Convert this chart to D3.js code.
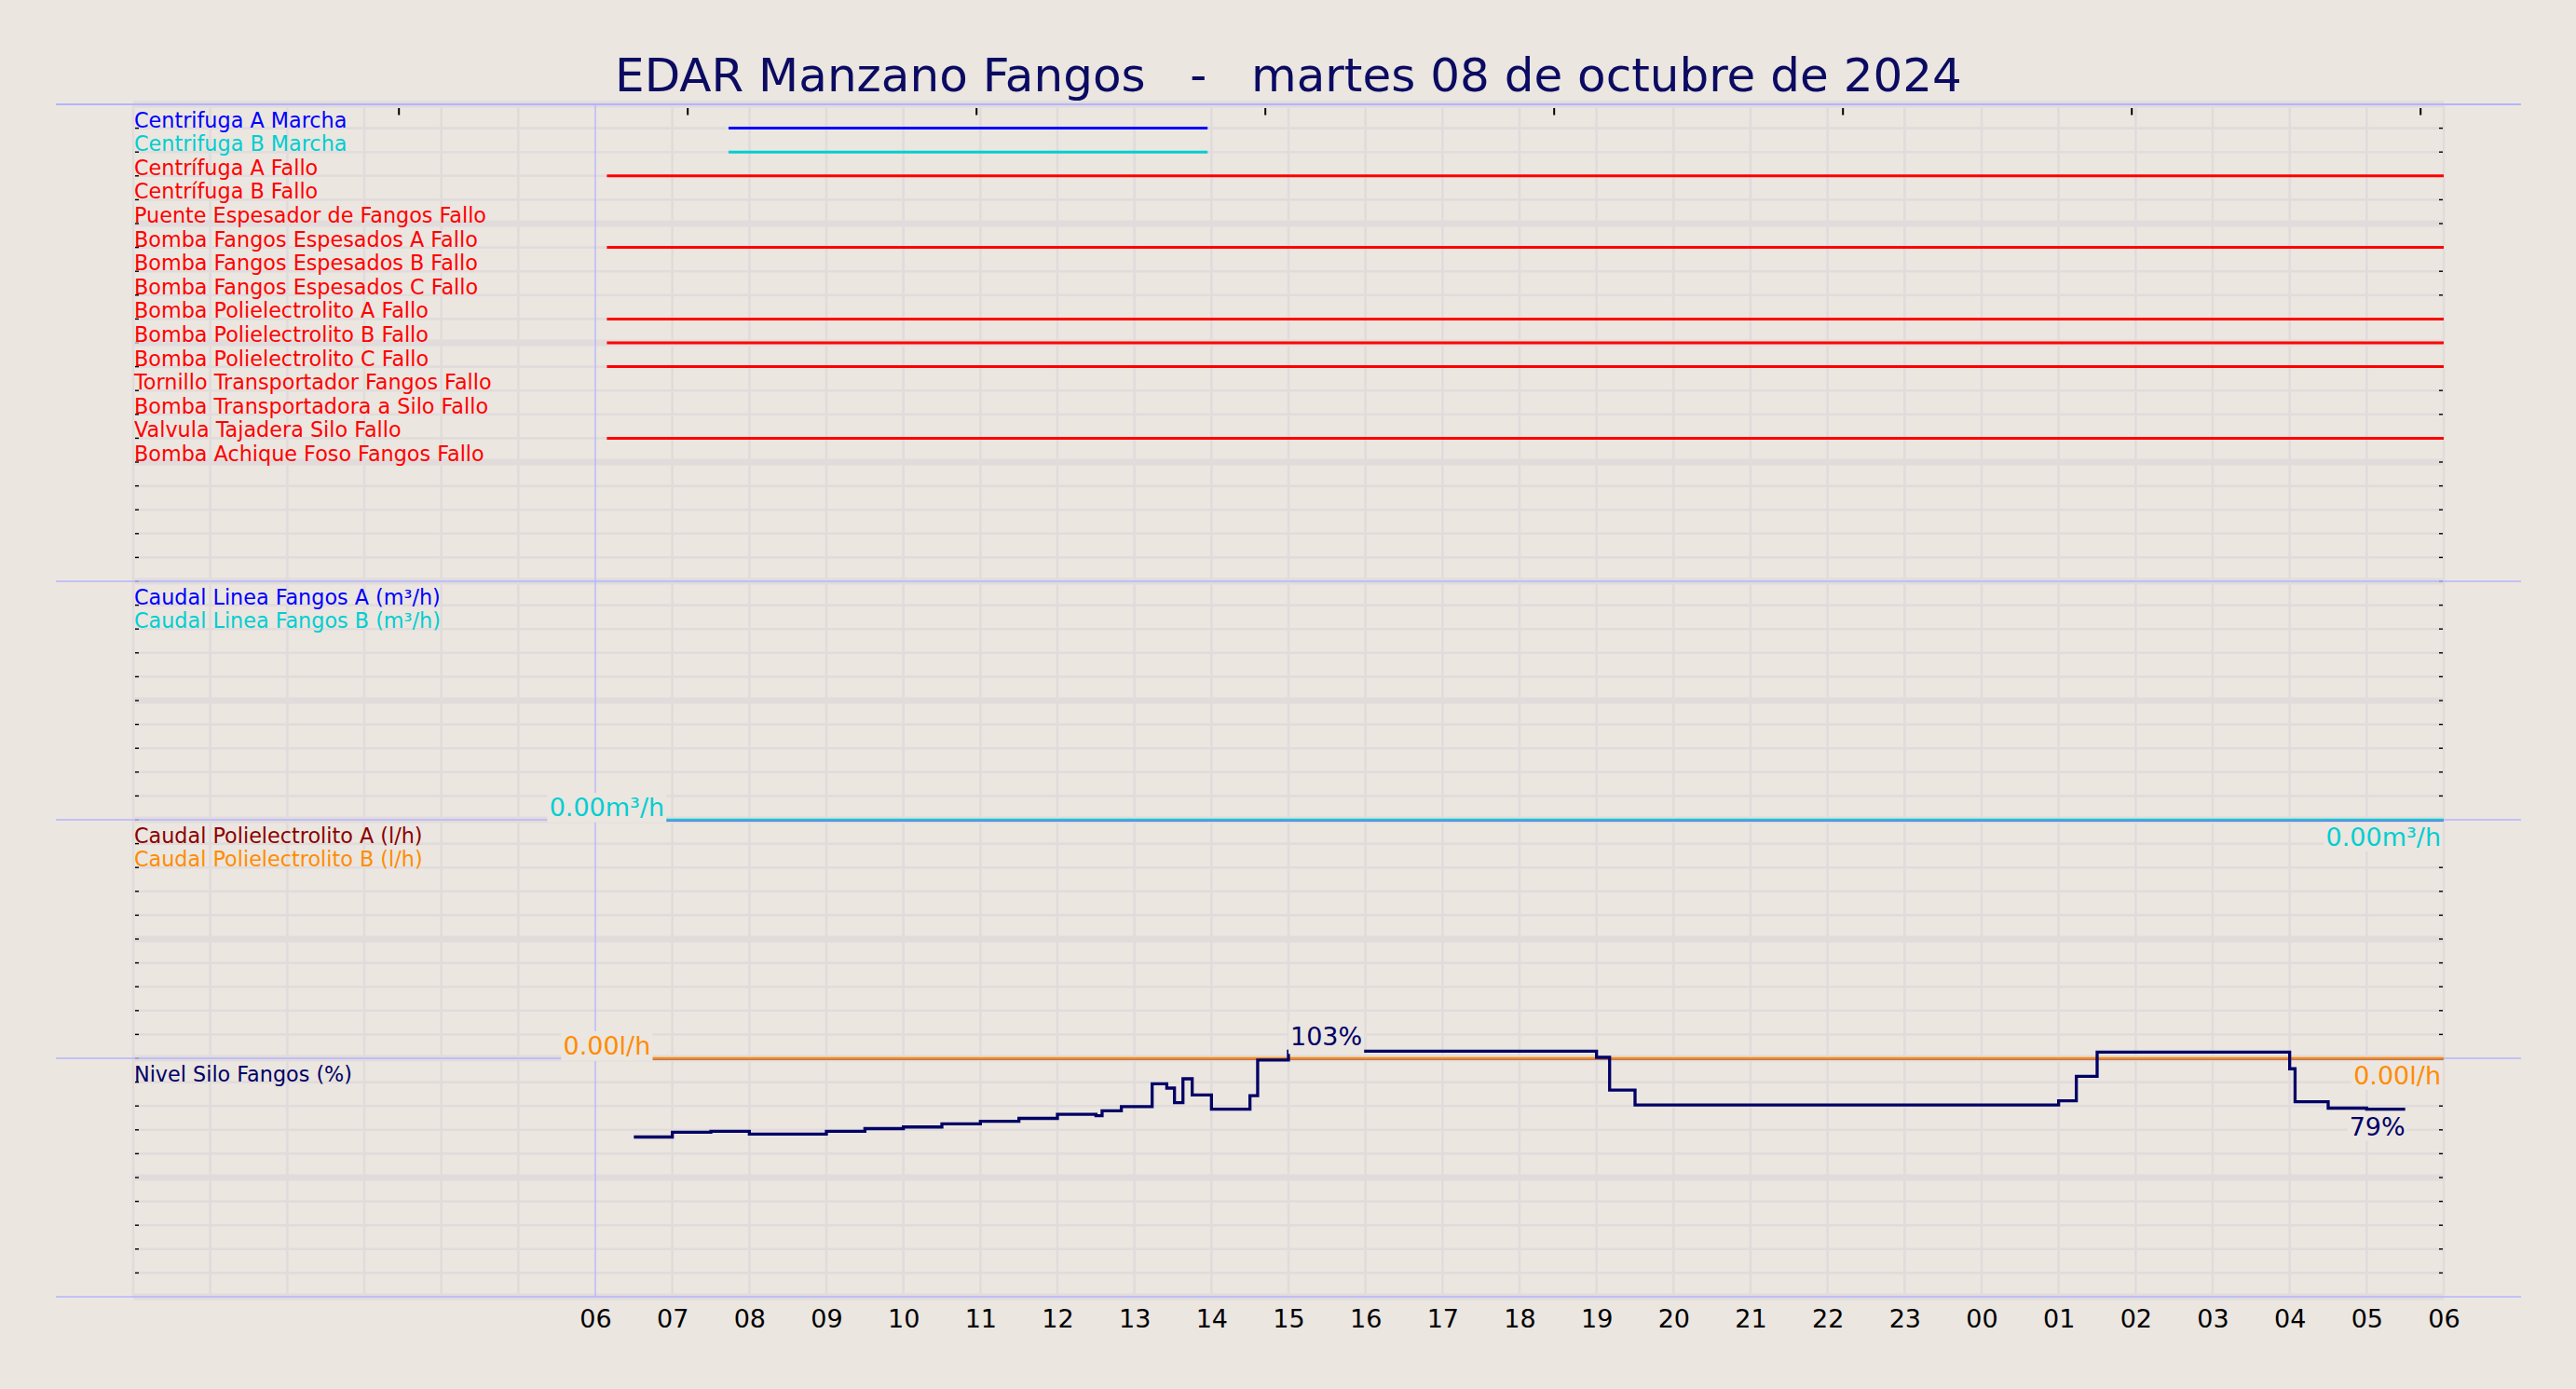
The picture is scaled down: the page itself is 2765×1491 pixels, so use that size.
<!DOCTYPE html>
<html><head><meta charset="utf-8">
<script src="https://cdn.jsdelivr.net/npm/d3@7"></script>
<style>
html,body{margin:0;padding:0;background:#ebe6e0;}
svg{display:block;font-family:"DejaVu Sans",sans-serif;}
</style>
</head><body>
<svg id="chart" width="2765" height="1491"></svg>
<script>
// ---------------- DATA ----------------
const chartTitle = "EDAR Manzano Fangos   -   martes 08 de octubre de 2024";
const xTickHours = [6,7,8,9,10,11,12,13,14,15,16,17,18,19,20,21,22,23,24,25,26,27,28,29,30];
const xTickLabels = ["06","07","08","09","10","11","12","13","14","15","16","17","18","19","20","21","22","23","00","01","02","03","04","05","06"];
const topTickHours = [3.45,7.2,10.95,14.7,18.45,22.2,25.95,29.7];

const digitalNames = [
  "Centrifuga A Marcha","Centrifuga B Marcha","Centrífuga A Fallo","Centrífuga B Fallo",
  "Puente Espesador de Fangos Fallo","Bomba Fangos Espesados A Fallo","Bomba Fangos Espesados B Fallo",
  "Bomba Fangos Espesados C Fallo","Bomba Polielectrolito A Fallo","Bomba Polielectrolito B Fallo",
  "Bomba Polielectrolito C Fallo","Tornillo Transportador Fangos Fallo","Bomba Transportadora a Silo Fallo",
  "Valvula Tajadera Silo Fallo","Bomba Achique Foso Fangos Fallo"];
const digitalColors = ["#0000ff","#00ced1","#ff0000","#ff0000","#ff0000","#ff0000","#ff0000","#ff0000",
  "#ff0000","#ff0000","#ff0000","#ff0000","#ff0000","#ff0000","#ff0000"];
// active intervals [start hour, end hour] (hours from 08/10 00:00)
const digitalOn = [
  [[7.73,13.95]], [[7.73,13.95]], [[6.15,30]], [], [], [[6.15,30]], [], [],
  [[6.15,30]], [[6.15,30]], [[6.15,30]], [], [], [[6.15,30]], []];

const flowNames = ["Caudal Linea Fangos A (m³/h)","Caudal Linea Fangos B (m³/h)"];
const flowColors = ["#0000ff","#00ced1"];
const flowTimes = [6.15, 30];
const flowA = [0, 0];
const flowB = [0, 0];

const polyNames = ["Caudal Polielectrolito A (l/h)","Caudal Polielectrolito B (l/h)"];
const polyColors = ["#8b0000","#ff8c00"];
const polyTimes = [6.15, 30];
const polyA = [0, 0];
const polyB = [0, 0];

const siloName = "Nivel Silo Fangos (%)";
const siloColor = "#000066";
const siloTimes  = [6.5, 7.0, 7.5, 8.0, 9.0, 9.5, 10.0, 10.5, 11.0, 11.5, 12.0, 12.5, 12.58, 12.83, 13.23, 13.42, 13.52, 13.63, 13.75, 14.0, 14.5, 14.6, 15.0, 19.0, 19.17, 19.5, 25.0, 25.23, 25.5, 28.0, 28.07, 28.5, 29.0, 29.5];
const siloValues = [67.0, 69.0, 69.4, 68.2, 69.4, 70.5, 71.2, 72.5, 73.6, 74.8, 76.5, 75.9, 78.0, 79.7, 89.3, 87.5, 81.4, 91.4, 84.6, 78.7, 84.3, 99.3, 103.0, 100.4, 86.7, 80.4, 82.2, 92.4, 102.6, 95.6, 81.8, 79.1, 78.7, 78.7];

// ---------------- LAYOUT ----------------
const W = 2765, H = 1491;
const bg = "#ebe6e0", gridC = "#e1dcdb", sepC = "#b4b4ff";
const svg = d3.select("#chart");
svg.append("rect").attr("width",W).attr("height",H).attr("fill",bg);

const x = d3.scaleLinear().domain([0,30]).range([143,2623]);
const row = d3.scaleLinear().domain([0,50]).range([112,1392]);
const yFlow = d3.scaleLinear().domain([0,10]).range([row(30), row(20)]);
const yPoly = d3.scaleLinear().domain([0,10]).range([row(40), row(30)]);
const ySilo = d3.scaleLinear().domain([0,100]).range([row(50), row(40)]);

// vertical grid
const g = svg.append("g");
g.selectAll(".vg").data(d3.range(0,31).filter(h=>h!==6)).enter().append("line")
  .attr("x1",d=>x(d)).attr("x2",d=>x(d)).attr("y1",row(0)).attr("y2",row(50))
  .attr("stroke",gridC).attr("stroke-width",2.7);
// horizontal grid
g.selectAll(".hg").data(d3.range(0,51)).enter().append("line")
  .attr("x1",x(0)).attr("x2",x(30)).attr("y1",d=>row(d)).attr("y2",d=>row(d))
  .attr("stroke",gridC).attr("stroke-width",d=>d%5===0?7:2.6);
// 06:00 marker
g.append("line").attr("x1",x(6)).attr("x2",x(6)).attr("y1",row(0)).attr("y2",row(50))
  .attr("stroke",sepC).attr("stroke-width",1.3);
// separators
g.selectAll(".sep").data([0,20,30,40,50]).enter().append("line")
  .attr("x1",60).attr("x2",2706).attr("y1",d=>row(d)).attr("y2",d=>row(d))
  .attr("stroke",sepC).attr("stroke-width",d=>d===0?2:1.5);
// y tick dashes
const yt = d3.range(1,50);
g.selectAll(".ytl").data(yt).enter().append("line")
  .attr("x1",x(0)+2).attr("x2",x(0)+6).attr("y1",d=>row(d)).attr("y2",d=>row(d))
  .attr("stroke",d=>d%10===0?"#9a9ab8":"#000").attr("stroke-width",1.4);
g.selectAll(".ytr").data(yt).enter().append("line")
  .attr("x1",x(30)-5).attr("x2",x(30)-1).attr("y1",d=>row(d)).attr("y2",d=>row(d))
  .attr("stroke",d=>d%10===0?"#9a9ab8":"#000").attr("stroke-width",1.4);
// top ticks
g.selectAll(".tt").data(topTickHours).enter().append("line")
  .attr("x1",d=>x(d)).attr("x2",d=>x(d)).attr("y1",116).attr("y2",123.5)
  .attr("stroke","#000").attr("stroke-width",2);

// ---------------- SERIES ----------------
const series = svg.append("g");
digitalOn.forEach((ints,i)=>{
  ints.forEach(iv=>{
    series.append("line").attr("x1",x(iv[0])).attr("x2",x(iv[1]))
      .attr("y1",row(i+1)).attr("y2",row(i+1))
      .attr("stroke",digitalColors[i]).attr("stroke-width",3);
  });
});
function stepLine(times, vals, yS, color, w, off){
  const pts = times.map((t,i)=>[t,vals[i]]);
  series.append("path").datum(pts)
    .attr("d", d3.line().x(d=>x(d[0])).y(d=>yS(d[1])+(off||0)).curve(d3.curveStepAfter))
    .attr("fill","none").attr("stroke",color).attr("stroke-width",w);
}
stepLine(flowTimes, flowA, yFlow, flowColors[0], 0.8, 1.1);
stepLine(flowTimes, flowB, yFlow, flowColors[1], 2.0, -0.3);
stepLine(polyTimes, polyA, yPoly, polyColors[0], 0.8, 1.1);
stepLine(polyTimes, polyB, yPoly, polyColors[1], 2.0, -0.3);
stepLine(siloTimes, siloValues, ySilo, siloColor, 3.3, 0);

// ---------------- VALUE LABELS ----------------
const lab = svg.append("g");
function boxLabel(txt, px, baseY, anchor, color, minBottom){
  const gg = lab.append("g");
  const t = gg.append("text").attr("x",px).attr("y",baseY).attr("text-anchor",anchor)
    .attr("font-size",27).attr("fill",color).text(txt);
  const b = t.node().getBBox();
  const bottom = Math.max(b.y+b.height, minBottom||0);
  gg.insert("rect","text").attr("x",b.x-2).attr("y",b.y).attr("width",b.width+4).attr("height",bottom-b.y)
    .attr("fill",bg);
}
function flowLabels(times, vals, yS, color, unit){
  const n = vals.length;
  boxLabel(d3.format(".2f")(vals[0])+unit, x(times[0]), yS(vals[0])-4, "middle", color, yS(vals[0])+2.5);
  boxLabel(d3.format(".2f")(vals[n-1])+unit, x(times[n-1])-3, yS(vals[n-1])+28, "end", color);
}
flowLabels(flowTimes, flowA, yFlow, flowColors[0], "m³/h");
flowLabels(flowTimes, flowB, yFlow, flowColors[1], "m³/h");
flowLabels(polyTimes, polyA, yPoly, polyColors[0], "l/h");
flowLabels(polyTimes, polyB, yPoly, polyColors[1], "l/h");
const maxV = d3.max(siloValues), maxI = siloValues.indexOf(maxV);
boxLabel(Math.round(maxV)+"%", x(siloTimes[maxI])+2, ySilo(maxV)-6.5, "start", siloColor, ySilo(maxV)+3);
const lastI = siloValues.length-1;
boxLabel(Math.round(siloValues[lastI])+"%", x(siloTimes[lastI]), ySilo(siloValues[lastI])+28, "end", siloColor);

// ---------------- ROW LABELS ----------------
const rl = svg.append("g").attr("font-size",22.3);
digitalNames.forEach((n,i)=>{
  rl.append("text").attr("x",144).attr("y",row(i+1)-1).attr("fill",digitalColors[i]).text(n);
});
flowNames.forEach((n,i)=>{
  rl.append("text").attr("x",144).attr("y",row(21+i)-1).attr("fill",flowColors[i]).text(n);
});
polyNames.forEach((n,i)=>{
  rl.append("text").attr("x",144).attr("y",row(31+i)-1).attr("fill",polyColors[i]).text(n);
});
rl.append("text").attr("x",144).attr("y",row(41)-1).attr("fill",siloColor).text(siloName);

// ---------------- X AXIS ----------------
const ax = svg.append("g").attr("transform","translate(0,1425)")
  .call(d3.axisBottom(x).tickValues(xTickHours).tickFormat((d,i)=>xTickLabels[i]).tickSize(0));
ax.select(".domain").remove();
ax.selectAll("text").attr("y",0).attr("dy",0).attr("font-size",27)
  .attr("font-family","DejaVu Sans").attr("fill","#000");

// ---------------- TITLE ----------------
svg.append("text").attr("x",1383).attr("y",98).attr("text-anchor","middle")
  .attr("font-size",50).attr("fill","#0b0b62").attr("xml:space","preserve")
  .style("white-space","pre").text(chartTitle);
</script>
</body></html>
